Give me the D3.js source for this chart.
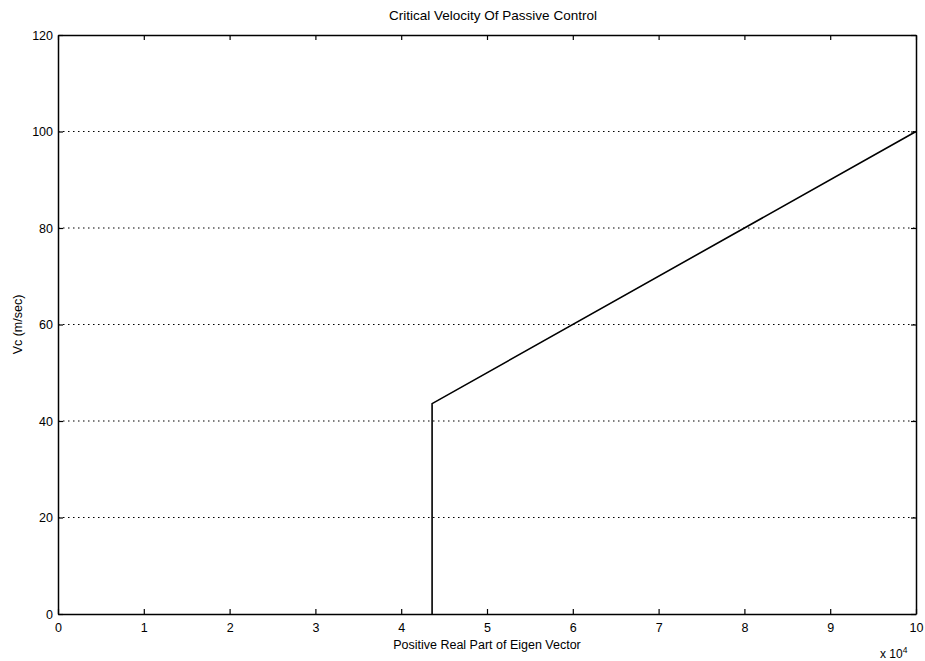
<!DOCTYPE html>
<html><head><meta charset="utf-8">
<script src="https://cdn.jsdelivr.net/npm/d3@7"></script>
<style>body{margin:0;background:#fff}svg{display:block}text{font-family:"Liberation Sans",Arial,sans-serif;fill:#000}</style>
</head><body>
<script>
const xVals = [4.36, 4.36, 10];
const yVals = [0, 43.6, 100];
const xTicks = [0,1,2,3,4,5,6,7,8,9,10];
const yTicks = [0,20,40,60,80,100,120];
const gridVals = [20,40,60,80,100];
const titleText = "Critical Velocity Of Passive Control";
const xLabel = "Positive Real Part of Eigen Vector";
const yLabel = "Vc (m/sec)";

const W=925,H=661;
const m={left:58,right:916,top:35,bottom:614};
const svg=d3.select("body").append("svg").attr("width",W).attr("height",H);
const x=d3.scaleLinear().domain([0,10]).range([m.left,m.right]);
const y=d3.scaleLinear().domain([0,120]).range([m.bottom,m.top]);

svg.append("g").selectAll("line").data(gridVals).join("line")
 .attr("x1",m.left).attr("x2",m.right).attr("y1",d=>y(d)).attr("y2",d=>y(d))
 .attr("stroke","#000").attr("stroke-width",1.2).attr("stroke-dasharray","1.5,3.5");

const tl=5;
const xb=d3.axisBottom(x).tickValues(xTicks).tickSizeInner(-tl).tickSizeOuter(0).tickPadding(9);
const gx=svg.append("g").attr("transform",`translate(0,${m.bottom})`).call(xb);
const xt=d3.axisTop(x).tickValues(xTicks).tickSizeInner(-tl).tickSizeOuter(0).tickFormat("");
const gxt=svg.append("g").attr("transform",`translate(0,${m.top})`).call(xt);
const yl=d3.axisLeft(y).tickValues(yTicks).tickSizeInner(-tl).tickSizeOuter(0).tickPadding(8);
const gy=svg.append("g").attr("transform",`translate(${m.left},0)`).call(yl);
const yr=d3.axisRight(y).tickValues(yTicks).tickSizeInner(-tl).tickSizeOuter(0).tickFormat("");
const gyr=svg.append("g").attr("transform",`translate(${m.right},0)`).call(yr);
[gx,gxt,gy,gyr].forEach(g=>{
  g.selectAll("path").attr("stroke","#000").attr("stroke-width",1.5);
  g.selectAll("line").attr("stroke","#000").attr("stroke-width",1.2);
  g.selectAll("text").attr("font-size",12.5).attr("font-family","'Liberation Sans',Arial,sans-serif").attr("fill","#000");
});
gy.selectAll("text").attr("dx","3");

const line=d3.line().x(d=>x(d[0])).y(d=>y(d[1]));
svg.append("path").datum(xVals.map((v,i)=>[v,yVals[i]])).attr("d",line)
 .attr("fill","none").attr("stroke","#000").attr("stroke-width",1.6);

svg.append("text").attr("x",493).attr("y",20).attr("text-anchor","middle").attr("font-size",13.5).text(titleText);
svg.append("text").attr("x",(m.left+m.right)/2).attr("y",649).attr("text-anchor","middle").attr("font-size",12.5).text(xLabel);
svg.append("text").attr("transform",`translate(22,${(m.top+m.bottom)/2}) rotate(-90)`).attr("text-anchor","middle").attr("font-size",12.5).text(yLabel);
const ex=svg.append("text").attr("x",880).attr("y",658).attr("font-size",12);
ex.append("tspan").text("x 10");
ex.append("tspan").attr("dy",-5).attr("font-size",8.5).text("4");
</script>
</body></html>
